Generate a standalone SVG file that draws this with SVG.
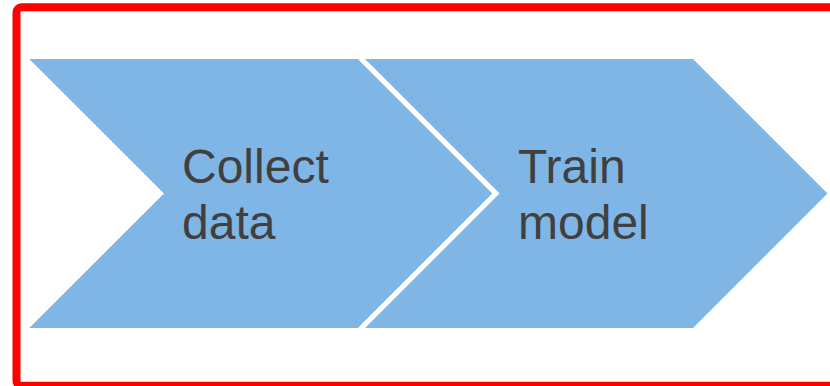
<svg xmlns="http://www.w3.org/2000/svg" width="830" height="386" viewBox="0 0 830 386">
<style>
.chev{fill:#80b6e5}
.lbl{font-family:"Liberation Sans",Arial,sans-serif;font-size:48px;fill:#404040}
</style>
<rect x="16.5" y="7.3" width="830" height="378.5" rx="5" fill="none" stroke="#ff0000" stroke-width="8"/>
<g id="node1">
<polygon class="chev" points="29.3,59 358,59 492.5,193.5 358,328 29.3,328 164,193.5"/>
<text class="lbl" x="182" y="182.7">Collect</text>
<text class="lbl" x="182" y="239.3">data</text>
</g>
<g id="node2">
<polygon class="chev" points="361.5,59 693,59 827.5,193.5 693,328 361.5,328 496,193.5"/>
<polyline points="361.5,59 496,193.5 361.5,328" fill="none" stroke="#ffffff" stroke-width="5"/>
<text class="lbl" x="518" y="182.7">Train</text>
<text class="lbl" x="518" y="239.3">model</text>
</g>
<g id="connectors"/>
</svg>
